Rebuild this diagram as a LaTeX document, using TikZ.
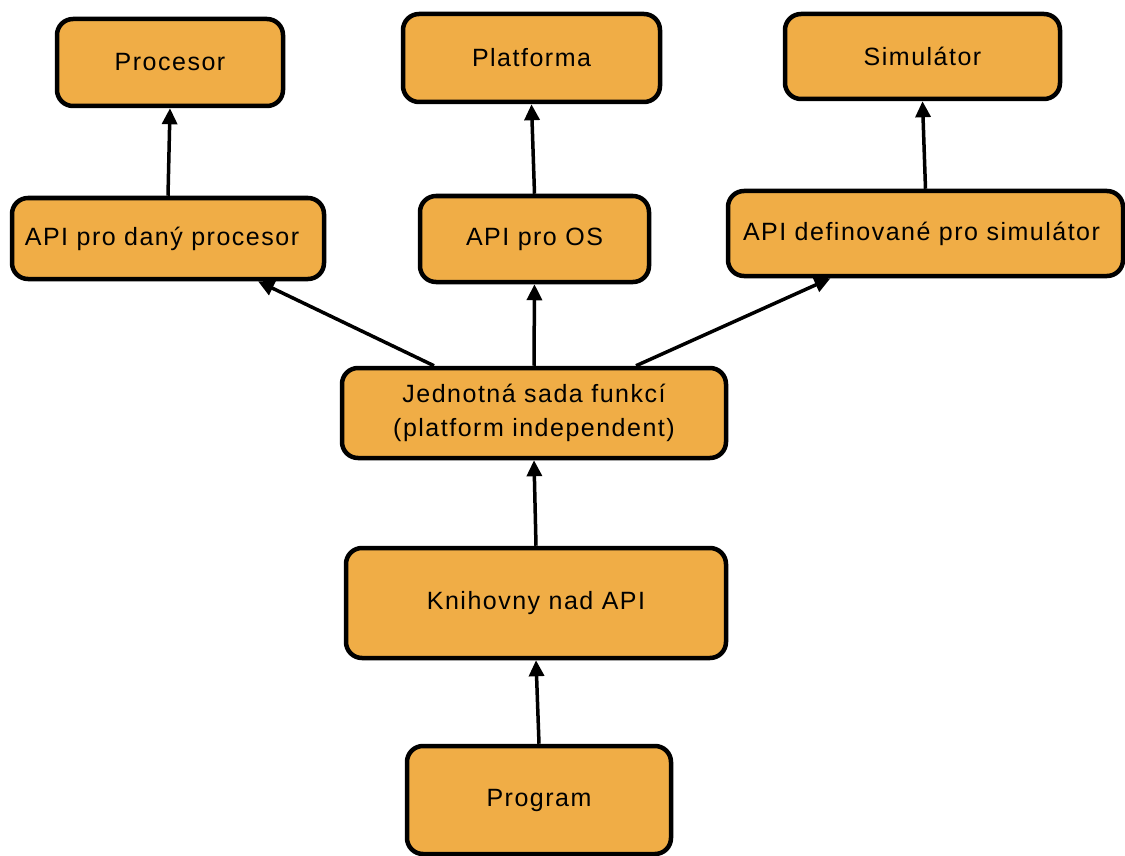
\documentclass[tikz,border=0pt]{standalone}
\usepackage{fontspec}
\setmainfont[LetterSpace=6]{Liberation Sans}
\usetikzlibrary{arrows.meta}
\definecolor{boxfill}{HTML}{F0AD46}
\newcommand{\lowtext}[1]{\raisebox{-3pt}{#1}}
\tikzset{
  box/.style={draw=black, line width=4.5pt, fill=boxfill, rounded corners=16pt,
    align=center, inner sep=0pt, font=\fontsize{25}{34}\selectfont},
  conn/.style={line width=3.5pt, -{Triangle[length=16pt,width=15pt]}}
}
\begin{document}
\begin{tikzpicture}[x=1pt,y=-1pt]
\useasboundingbox (0,0) rectangle (1125,856);
\node[box, minimum width=226pt, minimum height=87pt] (proc) at (170,62.5) {\lowtext{Procesor}};
\node[box, minimum width=257pt, minimum height=88pt] (plat) at (531.5,58) {\lowtext{Platforma}};
\node[box, minimum width=275pt, minimum height=85pt] (sim) at (922.5,56.5) {\lowtext{Simulátor}};
\node[box, minimum width=312pt, minimum height=81pt] (apiproc) at (168,238.5) {\hspace*{-12pt}\lowtext{API pro daný procesor}};
\node[box, minimum width=395pt, minimum height=85pt] (apisim) at (925.5,233.5) {\hspace*{-8pt}\lowtext{API definované pro simulátor}};
\node[box, minimum width=229pt, minimum height=86pt] (apios) at (534.5,239) {\lowtext{API pro OS}};
\node[box, minimum width=384pt, minimum height=90pt] (jed) at (534,413) {Jednotná sada funkcí\\(platform independent)};
\node[box, minimum width=380pt, minimum height=110pt] (kn) at (536,603) {\lowtext{Knihovny nad API}};
\node[box, minimum width=264pt, minimum height=108pt] (prog) at (539,800) {\lowtext{Program}};
\draw[conn] (prog.north) -- (kn.south);
\draw[conn] (kn.north) -- (jed.south);
\draw[conn] ([xshift=-100pt]jed.north) -- ([xshift=90pt]apiproc.south);
\draw[conn] (jed.north) -- (apios.south);
\draw[conn] ([xshift=102pt]jed.north) -- ([xshift=-95pt]apisim.south);
\draw[conn] (apiproc.north) -- (proc.south);
\draw[conn] (apios.north) -- (plat.south);
\draw[conn] (apisim.north) -- (sim.south);
\end{tikzpicture}
\end{document}
